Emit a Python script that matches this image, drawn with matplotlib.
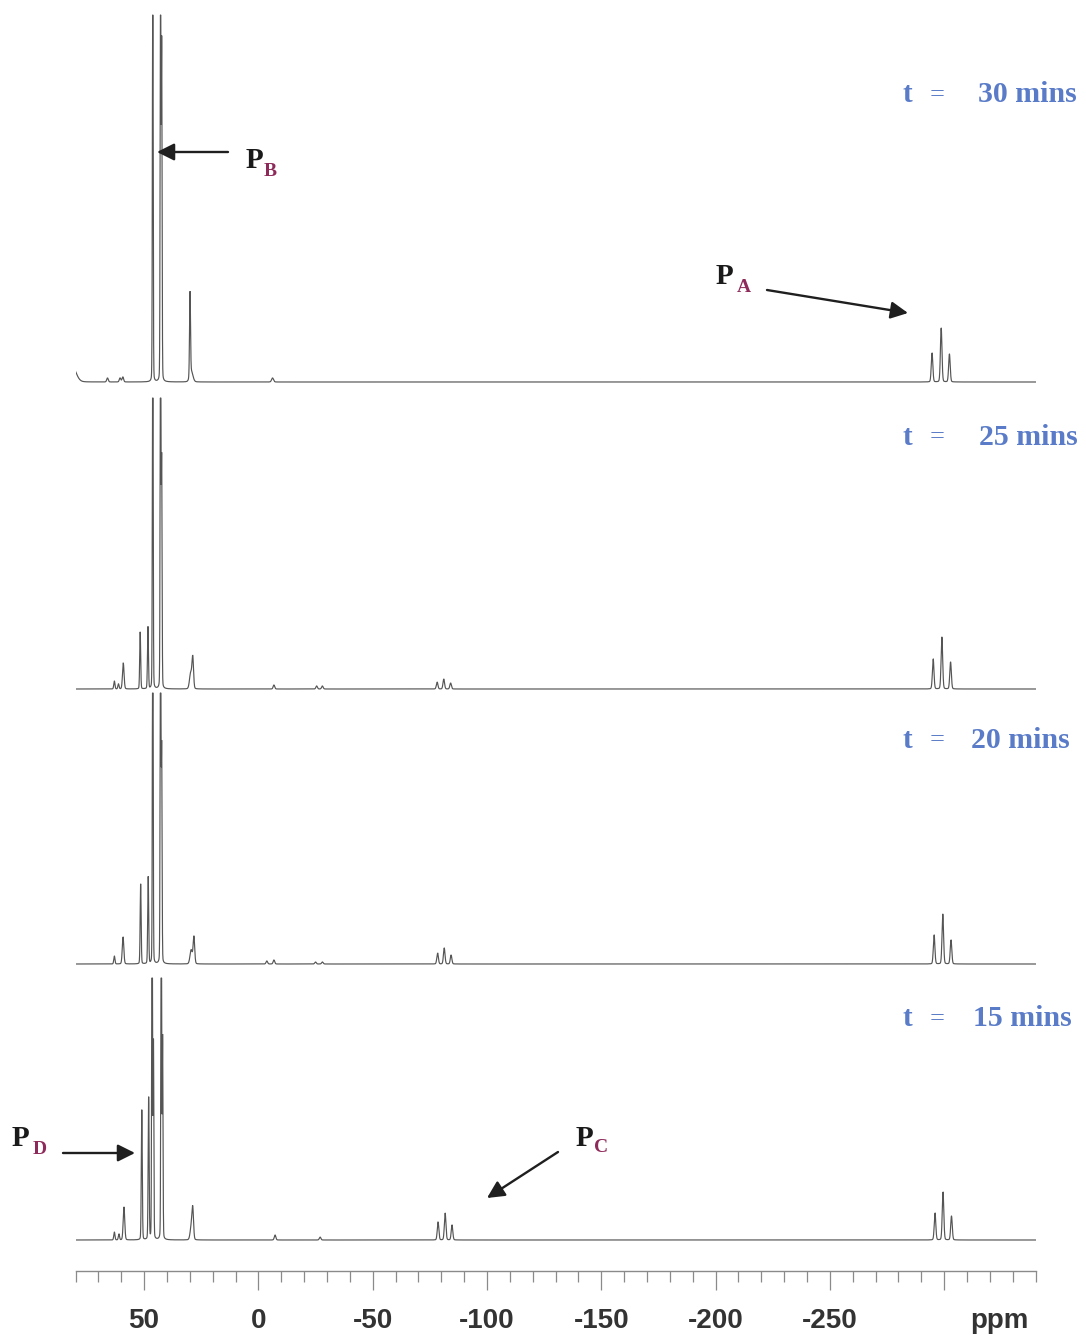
import numpy as np
import matplotlib
matplotlib.use("Agg")
import matplotlib.pyplot as plt
from matplotlib.patches import FancyArrowPatch

# ---------------- data ----------------
times = ["30", "25", "20", "15"]

# peak positions (ppm), visible heights (px units) and half-widths (ppm)
t30_ppm = [81.5, 66.0, 60.5, 59.3, 46.2, 42.8, 42.3, 29.9, 29.3, -6.2, -294.7, -298.7, -302.3]
t30_h   = [16, 4, 4, 5, 420, 420, 334, 84, 10, 4, 29, 54, 28]
t30_w   = [2.0, 0.4, 0.4, 0.4, 0.2, 0.2, 0.2, 0.25, 0.8, 0.5, 0.4, 0.4, 0.4]

t25_ppm = [63.0, 61.2, 59.1, 51.7, 48.3, 46.2, 42.8, 42.3, 29.6, 28.7, -6.8, -25.5, -28.0,
           -78.2, -81.1, -84.1, -295.2, -299.0, -302.8]
t25_h   = [8, 5, 26, 57, 62, 420, 420, 224, 16, 30, 4, 3, 3, 7, 10, 6, 30, 52, 27]
t25_w   = [0.3, 0.3, 0.4, 0.25, 0.25, 0.2, 0.2, 0.2, 0.6, 0.4, 0.4, 0.4, 0.4,
           0.4, 0.4, 0.4, 0.4, 0.4, 0.4]

t20_ppm = [63.0, 59.2, 51.5, 48.2, 46.2, 42.8, 42.3, 29.4, 28.2, -3.7, -6.8, -25.0, -28.0,
           -78.4, -81.3, -84.3, -295.6, -299.4, -303.0]
t20_h   = [8, 27, 80, 87, 420, 420, 211, 14, 27, 3, 4, 2, 2, 11, 16, 9, 29, 50, 24]
t20_w   = [0.3, 0.4, 0.25, 0.25, 0.2, 0.2, 0.2, 0.6, 0.4, 0.4, 0.4, 0.4, 0.4,
           0.4, 0.4, 0.4, 0.4, 0.4, 0.4]

t15_ppm = [63.0, 61.0, 58.8, 51.0, 48.0, 46.5, 45.9, 42.5, 41.9, 29.3, 28.7, -7.3, -27.0,
           -78.6, -81.7, -84.7, -296.0, -299.5, -303.2]
t15_h   = [8, 6, 33, 130, 142, 420, 195, 420, 200, 14, 27, 5, 3, 18, 27, 15, 27, 48, 24]
t15_w   = [0.3, 0.3, 0.4, 0.25, 0.25, 0.2, 0.2, 0.2, 0.2, 0.6, 0.4, 0.4, 0.4,
           0.4, 0.4, 0.4, 0.4, 0.4, 0.4]

peak_ppm = [t30_ppm, t25_ppm, t20_ppm, t15_ppm]
peak_h = [t30_h, t25_h, t20_h, t15_h]
peak_w = [t30_w, t25_w, t20_w, t15_w]

tick_major = [50, 0, -50, -100, -150, -200, -250, -300]
tick_labels = ["50", "0", "-50", "-100", "-150", "-200", "-250", ""]

# ---------------- layout ----------------
W, H = 1086, 1336
fig = plt.figure(figsize=(W / 100, H / 100), dpi=100)
fig.patch.set_facecolor("white")

ax_left, ax_right, ax_bottom_px = 75.5, 1035.6, 1271
ax = fig.add_axes([ax_left / W, (H - ax_bottom_px) / H,
                   (ax_right - ax_left) / W, ax_bottom_px / H])
ax.set_xlim(80, -340)
ax.set_ylim(0, ax_bottom_px)

baselines_px = [382, 689, 964, 1240]
clip_heights = [367, 291, 271, 262]
eta = 0.12  # Lorentzian fraction of the pseudo-Voigt line shape

x = np.linspace(80, -340, 42001)
for ppm, hh, ww, bpx, clip in zip(peak_ppm, peak_h, peak_w, baselines_px, clip_heights):
    spec = np.zeros_like(x)
    for p0, h0, w0 in zip(ppm, hh, ww):
        d2 = (x - p0) ** 2
        lor = w0 ** 2 / (d2 + w0 ** 2)
        gau = np.exp(-np.log(2) * d2 / w0 ** 2)
        spec += h0 * (eta * lor + (1 - eta) * gau)
    spec = np.minimum(spec, clip)
    ax.plot(x, spec + (ax_bottom_px - bpx), color="#555555", lw=0.85,
            solid_joinstyle="miter")

# axis styling
for s in ["top", "left", "right"]:
    ax.spines[s].set_visible(False)
ax.spines["bottom"].set_color("#8a8a8a")
ax.spines["bottom"].set_linewidth(1.0)
ax.set_yticks([])
ax.set_xticks(tick_major)
ax.set_xticklabels(tick_labels)
ax.set_xticks(np.arange(80, -341, -10), minor=True)
ax.tick_params(axis="x", which="major", length=14, width=0.9, color="#8a8a8a",
               pad=13, labelsize=20, labelcolor="#333333")
ax.tick_params(axis="x", which="minor", length=8, width=0.9, color="#8a8a8a")
sans_narrow = ["Liberation Sans Narrow", "Liberation Sans", "DejaVu Sans"]
for lab in ax.get_xticklabels():
    lab.set_fontfamily(sans_narrow)
    lab.set_fontweight("bold")
ax.text(-324, -50, "ppm", ha="center", va="center", fontsize=20, fontweight="bold",
        color="#333333", family=sans_narrow, clip_on=False)


def fx(px):
    return px / W


def fy(py):
    return 1 - py / H


serif = ["Liberation Serif", "DejaVu Serif"]
blue = "#5a7cc8"
sub_col = "#8e2a5a"

# time labels
time_rows = [(95, 978), (437, 979), (740, 971), (1019, 973)]
for t, (yy, xnum) in zip(times, time_rows):
    fig.text(fx(907), fy(yy), "t", ha="center", va="center", fontsize=21,
             fontweight="bold", color=blue, family=serif)
    fig.text(fx(937), fy(yy), "=", ha="center", va="center", fontsize=19,
             color=blue, family=serif)
    fig.text(fx(xnum), fy(yy), t + " mins", ha="left", va="center", fontsize=21.5,
             fontweight="bold", color=blue, family=serif)

# P labels: (P left x, P center y, sub left x, sub center y, subscript)
plabels = [(246, 161, 264, 171, "B"), (716, 277, 737, 287, "A"),
           (12, 1138, 33, 1149, "D"), (576, 1138, 594, 1147, "C")]
for px_, py_, sx_, sy_, sub in plabels:
    fig.text(fx(px_), fy(py_), "P", ha="left", va="center", fontsize=21,
             fontweight="bold", color="#1a1a1a", family=serif)
    fig.text(fx(sx_), fy(sy_), sub, ha="left", va="center", fontsize=14,
             fontweight="bold", color=sub_col, family=serif)

# arrows (tail -> head) in pixel positions
arrows = [((228, 152), (157, 152)), ((767, 290), (908, 313)),
          ((63, 1153), (135, 1153)), ((558, 1152), (487, 1198))]
for (x0, y0), (x1, y1) in arrows:
    arr = FancyArrowPatch((fx(x0), fy(y0)), (fx(x1), fy(y1)), transform=fig.transFigure,
                          arrowstyle="-|>", mutation_scale=26, lw=1.7,
                          color="#1f1f1f", shrinkA=0, shrinkB=0)
    fig.add_artist(arr)

fig.savefig("out.png", dpi=100, facecolor="white")
